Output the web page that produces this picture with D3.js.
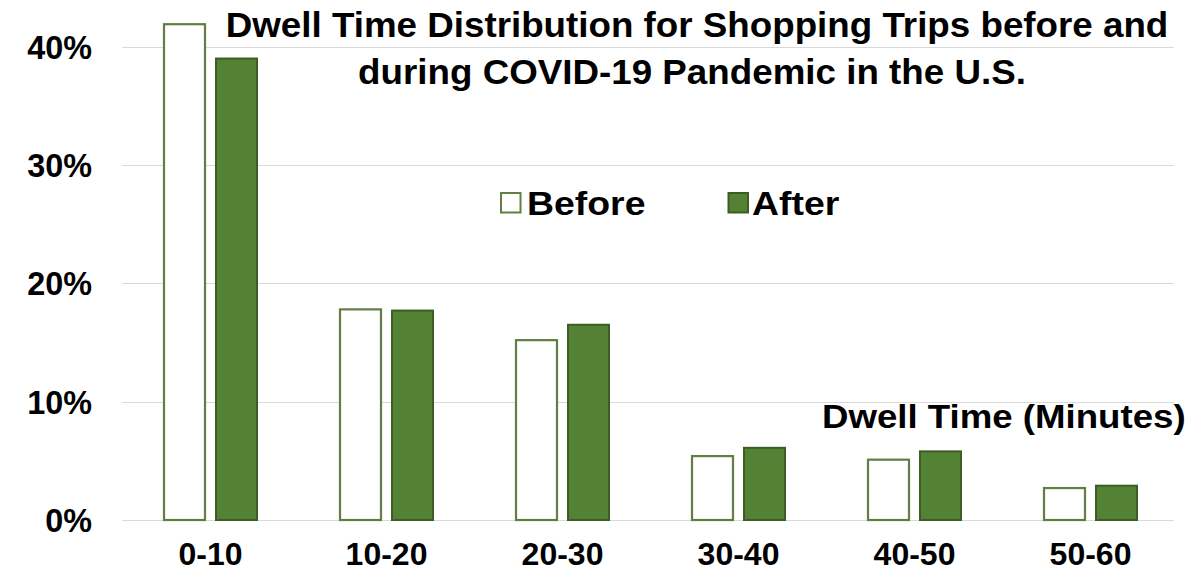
<!DOCTYPE html>
<html>
<head>
<meta charset="utf-8">
<script src="https://cdn.jsdelivr.net/npm/d3@7"></script>
<style>
  html, body { margin: 0; padding: 0; background: #fff; }
  svg { display: block; }
  text { font-family: "Liberation Sans", Arial, sans-serif; font-weight: bold; fill: #000; }
</style>
</head>
<body>
<svg id="chart" width="1201" height="577"></svg>
<script>
// ---- data ----
const categories = ["0-10", "10-20", "20-30", "30-40", "40-50", "50-60"];
const series = ["Before", "After"];
const beforeValues = [0.419, 0.178, 0.152, 0.054, 0.051, 0.027];
const afterValues  = [0.390, 0.177, 0.165, 0.061, 0.058, 0.029];
const yTicks = [0, 0.1, 0.2, 0.3, 0.4];
const titleLines = ["Dwell Time Distribution for Shopping Trips before and",
                    "during COVID-19 Pandemic in the U.S."];
const axisTitle = "Dwell Time (Minutes)";

const rows = categories.map((c, i) => ({ cat: c, Before: beforeValues[i], After: afterValues[i] }));

// ---- layout ----
const svg = d3.select("#chart");
const left = 122.5, right = 1178.5, baseY = 520, topY = 46.7;

const x0 = d3.scaleBand().domain(categories).range([left, right])
  .paddingInner(0.4716).paddingOuter(0.2358);
const x1 = d3.scaleBand().domain(series).range([0, x0.bandwidth()]).paddingInner(0.2115);
const y = d3.scaleLinear().domain([0, 0.4]).range([baseY, topY]);

const colors = {
  Before: { fill: "#ffffff", stroke: "#5f7f43", sw: 2.2 },
  After:  { fill: "#548235", stroke: "#3c5e25", sw: 2 }
};

// stretched text helper
function sText(g, str, x, yy, size, anchor, k) {
  const t = g.append("text")
    .attr("x", x).attr("y", yy)
    .attr("font-size", size)
    .attr("text-anchor", anchor)
    .text(str);
  const w = t.node().getComputedTextLength();
  t.attr("textLength", w * k).attr("lengthAdjust", "spacingAndGlyphs");
  return t;
}

// gridlines
svg.append("g").selectAll("line").data(yTicks).join("line")
  .attr("x1", left - 0.5).attr("x2", 1174)
  .attr("y1", d => Math.round(y(d)) + 0.5).attr("y2", d => Math.round(y(d)) + 0.5)
  .attr("stroke", "#d9d9d9").attr("stroke-width", 1.2);

// y axis labels
const yAxis = svg.append("g");
yTicks.forEach(t => {
  sText(yAxis, d3.format(".0%")(t), 92, y(t) + 12, 33, "end", 0.98);
});

// bars
const groups = svg.append("g").selectAll("g").data(rows).join("g")
  .attr("transform", d => `translate(${x0(d.cat)},0)`);
groups.selectAll("rect").data(d => series.map(s => ({ s, v: d[s] }))).join("rect")
  .attr("x", d => x1(d.s))
  .attr("width", x1.bandwidth())
  .attr("y", d => y(d.v))
  .attr("height", d => baseY - y(d.v))
  .attr("fill", d => colors[d.s].fill)
  .attr("stroke", d => colors[d.s].stroke)
  .attr("stroke-width", d => colors[d.s].sw);

// x axis labels
const xAxis = svg.append("g");
categories.forEach(c => {
  sText(xAxis, c, x0(c) + x0.bandwidth() / 2, 565, 32, "middle", 1.0);
});

// title
const tg = svg.append("g");
sText(tg, titleLines[0], 697, 37, 35, "middle", 1.05);
sText(tg, titleLines[1], 692, 84, 35, "middle", 1.05);

// legend
const lg = svg.append("g");
const legendItems = [
  { s: "Before", bx: 501, tx: 527 },
  { s: "After", bx: 728.5, tx: 752 }
];
legendItems.forEach(it => {
  lg.append("rect").attr("x", it.bx).attr("y", 193).attr("width", 19.5).attr("height", 19.5)
    .attr("fill", colors[it.s].fill).attr("stroke", colors[it.s].stroke).attr("stroke-width", 2);
  sText(lg, it.s, it.tx, 215, 34, "start", 1.1);
});

// axis title
sText(svg.append("g"), axisTitle, 822, 428, 33, "start", 1.11);
</script>
</body>
</html>
